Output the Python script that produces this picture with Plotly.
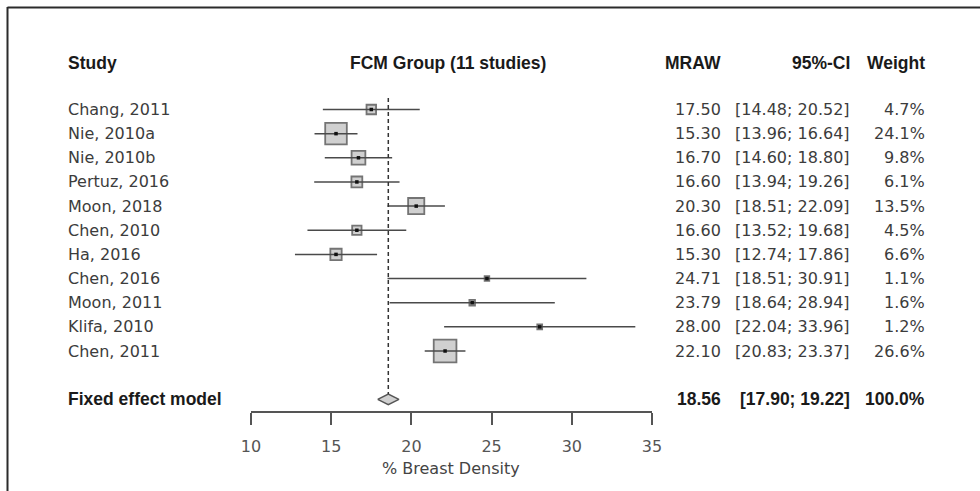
import plotly.graph_objects as go
import math

# ---- data ----
studies = ["Chang, 2011", "Nie, 2010a", "Nie, 2010b", "Pertuz, 2016", "Moon, 2018",
           "Chen, 2010", "Ha, 2016", "Chen, 2016", "Moon, 2011", "Klifa, 2010", "Chen, 2011"]
mraw = [17.50, 15.30, 16.70, 16.60, 20.30, 16.60, 15.30, 24.71, 23.79, 28.00, 22.10]
lower = [14.48, 13.96, 14.60, 13.94, 18.51, 13.52, 12.74, 18.51, 18.64, 22.04, 20.83]
upper = [20.52, 16.64, 18.80, 19.26, 22.09, 19.68, 17.86, 30.91, 28.94, 33.96, 23.37]
weight = [4.7, 24.1, 9.8, 6.1, 13.5, 4.5, 6.6, 1.1, 1.6, 1.2, 26.6]
pooled_label = "Fixed effect model"
pooled_est = 18.56
pooled_lo = 17.90
pooled_hi = 19.22
pooled_w = 100.0
tick_vals = [10, 15, 20, 25, 30, 35]
x_title = "% Breast Density"
group_title = "FCM Group (11 studies)"
headers = ["Study", "MRAW", "95%-CI", "Weight"]

# ---- layout constants ----
W, H = 980, 491
L, R, T, B = 251, 328, 40, 80
row0_px, row_step = 109.5, 24.15
plot_w = W - L - R
plot_h = H - T - B
y_top = (T - row0_px) / row_step
y_bot = (H - B - row0_px) / row_step
pooled_row = len(studies) + 1
header_row = -1.92

FONT = "DejaVu Sans"
FONT_B = "Liberation Sans, Arial"
TXT = "#3c3c3c"
BLK = "#1a1a1a"
LINE = "#4a4a4a"


def px_x(X):
    return (X - L) / plot_w


def px_y(Y):
    return (H - B - Y) / plot_h


rows = list(range(len(studies)))
fig = go.Figure()

# squares (area proportional to weight)
sizes = [4.4 * math.sqrt(w) for w in weight]
fig.add_trace(go.Scatter(
    x=mraw, y=rows, mode="markers",
    marker=dict(symbol="square", size=sizes, color="#bdbdbd",
                line=dict(color="#3a3a3a", width=1.8)),
    hoverinfo="skip", showlegend=False))

# CI lines
cx, cy = [], []
for i, (lo, hi) in enumerate(zip(lower, upper)):
    cx += [lo, hi, None]
    cy += [i, i, None]
fig.add_trace(go.Scatter(x=cx, y=cy, mode="lines",
                         line=dict(color=LINE, width=1.5),
                         hoverinfo="skip", showlegend=False))

# centre dots
fig.add_trace(go.Scatter(x=mraw, y=rows, mode="markers",
                         marker=dict(symbol="square", size=3.5, color="#111111"),
                         hoverinfo="skip", showlegend=False))

# pooled diamond
dh = 0.22
fig.add_trace(go.Scatter(
    x=[pooled_lo, pooled_est, pooled_hi, pooled_est, pooled_lo],
    y=[pooled_row, pooled_row - dh, pooled_row, pooled_row + dh, pooled_row],
    mode="lines", fill="toself", fillcolor="#d0d0d0",
    line=dict(color="#555555", width=1.5),
    hoverinfo="skip", showlegend=False))

# dashed reference line at pooled estimate
fig.add_trace(go.Scatter(x=[pooled_est, pooled_est], y=[-0.48, pooled_row - dh],
                         mode="lines",
                         line=dict(color="#333333", width=1.5, dash="4px,3px"),
                         hoverinfo="skip", showlegend=False))

ann = []


def add_text(text, X, row, anchor, bold=False):
    ann.append(dict(
        text=f"<b>{text}</b>" if bold else text,
        x=px_x(X), xref="paper", y=row, yref="y",
        xanchor=anchor, yanchor="middle", showarrow=False,
        font=dict(family=FONT_B if bold else FONT, size=17.5 if bold else 16,
                  color=BLK if bold else TXT)))


# headers
add_text(headers[0], 66, header_row, "left", True)
add_text(group_title, 448, header_row, "center", True)
add_text(headers[1], 723, header_row, "right", True)
add_text(headers[2], 852, header_row, "right", True)
add_text(headers[3], 927, header_row, "right", True)

for i, s in enumerate(studies):
    add_text(s, 66, i, "left")
    add_text(f"{mraw[i]:.2f}", 723, i, "right")
    add_text(f"[{lower[i]:.2f}; {upper[i]:.2f}]", 852, i, "right")
    add_text(f"{weight[i]:.1f}%", 927, i, "right")

add_text(pooled_label, 66, pooled_row, "left", True)
add_text(f"{pooled_est:.2f}", 723, pooled_row, "right", True)
add_text(f"[{pooled_lo:.2f}; {pooled_hi:.2f}]", 852, pooled_row, "right", True)
add_text(f"{pooled_w:.1f}%", 927, pooled_row, "right", True)

# axis title
ann.append(dict(text=x_title, x=px_x(451), xref="paper", y=px_y(468), yref="paper",
                xanchor="center", yanchor="middle", showarrow=False,
                font=dict(family=FONT, size=16, color="#444444")))

shapes = [
    dict(type="line", xref="paper", yref="paper",
         x0=px_x(7.5), x1=px_x(W + 5), y0=px_y(7.5), y1=px_y(7.5),
         line=dict(color="#2b2b2b", width=2)),
    dict(type="line", xref="paper", yref="paper",
         x0=px_x(7.5), x1=px_x(7.5), y0=px_y(7), y1=px_y(H + 5),
         line=dict(color="#2b2b2b", width=2)),
]

fig.update_layout(
    width=W, height=H,
    margin=dict(l=L, r=R, t=T, b=B, pad=0),
    paper_bgcolor="white", plot_bgcolor="white",
    showlegend=False,
    annotations=ann, shapes=shapes,
    xaxis=dict(range=[tick_vals[0], tick_vals[-1]], tickvals=tick_vals,
               showgrid=False, zeroline=False,
               showline=True, linecolor="#555555", linewidth=1.5,
               ticks="outside", ticklen=12, tickwidth=1.5, tickcolor="#555555",
               ticklabelstandoff=8,
               tickfont=dict(family=FONT, size=16, color="#555555")),
    yaxis=dict(range=[y_bot, y_top], visible=False, showgrid=False, zeroline=False),
)

fig.write_html("out.html")
